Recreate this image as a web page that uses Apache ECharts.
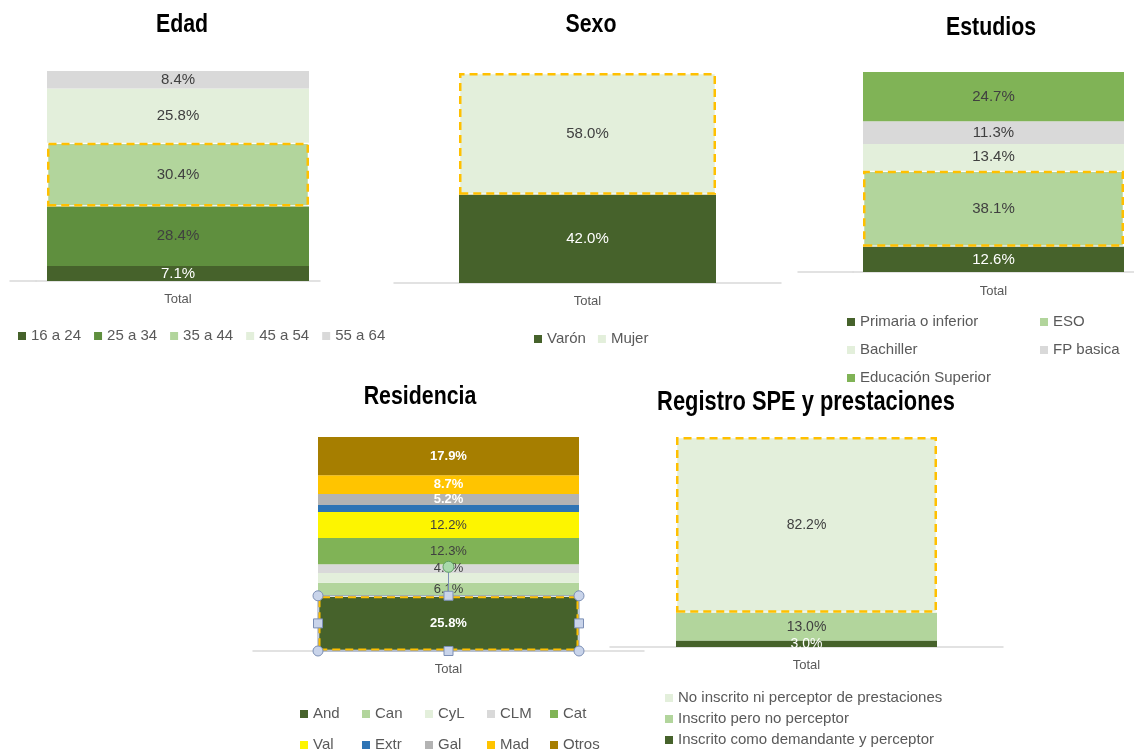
<!DOCTYPE html>
<html><head><meta charset="utf-8">
<script src="https://cdn.jsdelivr.net/npm/echarts@6/dist/echarts.min.js"></script>
<style>html,body{margin:0;padding:0;background:#fff}#c{width:1134px;height:753px}</style>
</head><body><div id="c"></div>
<script>
// ---------- DATA ----------
const category = ['Total'];
const edadNames = ['16 a 24', '25 a 34', '35 a 44', '45 a 54', '55 a 64'];
const edadValues = [7.1, 28.4, 30.4, 25.8, 8.4];
const sexoNames = ['Varón', 'Mujer'];
const sexoValues = [42.0, 58.0];
const estudiosNames = ['Primaria o inferior', 'ESO', 'Bachiller', 'FP basica', 'Educación Superior'];
const estudiosValues = [12.6, 38.1, 13.4, 11.3, 24.7];
const residNames = ['And', 'Can', 'CyL', 'CLM', 'Cat', 'Val', 'Extr', 'Gal', 'Mad', 'Otros'];
const residValues = [25.8, 6.1, 4.6, 4.0, 12.3, 12.2, 3.2, 5.2, 8.7, 17.9];
const speNames = ['Inscrito como demandante y perceptor', 'Inscrito pero no perceptor', 'No inscrito ni perceptor de prestaciones'];
const speValues = [3.0, 13.0, 82.2];
const titles = ['Edad', 'Sexo', 'Estudios', 'Residencia', 'Registro SPE y prestaciones'];

// ---------- STYLE ----------
const DG = '#46622b', MG = '#5f8f3e', LG = '#b2d59c', PG = '#e3efdb', GR = '#d9d9d9', CG = '#80b356';
const edadColors = [DG, MG, LG, PG, GR];
const sexoColors = [DG, PG];
const estudiosColors = [DG, LG, PG, GR, CG];
const residColors = [DG, LG, PG, GR, CG, '#fdf500', '#2e74b5', '#b3b3b3', '#ffc400', '#a67e00'];
const speColors = [DG, LG, PG];
const DARK = '#404040', WHITE = '#ffffff';
const FONT = "'Liberation Sans', Arial, Helvetica, sans-serif";
const HL = '#ffc000';

const sum = a => a.reduce((s, v) => s + v, 0);

const grids = [
  { left: 36, top: 71, width: 284, height: 210 },
  { left: 394, top: 73, width: 387, height: 210 },
  { left: 853, top: 72, width: 281, height: 200 },
  { left: 253, top: 437, width: 391, height: 214 },
  { left: 610, top: 437, width: 393, height: 210 },
  // extensions of the baseline to the left of the Edad and Estudios plots
  { left: 10, top: 71, width: 26, height: 210 },
  { left: 798, top: 72, width: 55, height: 200 }
];
const totals = [sum(edadValues), sum(sexoValues), sum(estudiosValues), sum(residValues), sum(speValues), 1, 1];
const labelMargins = [12, 12, 13, 12, 12, 12, 12];

function makeSeries(g, names, values, colors, labelColors, opts) {
  return names.map((n, i) => {
    const hl = i === opts.highlight;
    return {
      name: n, type: 'bar', stack: 's' + g,
      xAxisIndex: g, yAxisIndex: g,
      barWidth: opts.barWidth,
      data: [values[i]],
      itemStyle: hl ? { color: colors[i], borderColor: HL, borderWidth: 2.5, borderType: [8, 5] } : { color: colors[i] },
      label: {
        show: opts.hide ? !opts.hide.includes(i) : true,
        position: 'inside',
        color: labelColors[i],
        fontFamily: FONT,
        fontSize: opts.fontSize,
        fontWeight: (opts.boldWhite && labelColors[i] === WHITE) ? 'bold' : 'normal',
        formatter: p => Number(p.value).toFixed(1) + '%'
      },
      emphasis: { disabled: true },
      z: hl ? 3 : 2
    };
  });
}

const series = [].concat(
  makeSeries(0, edadNames, edadValues, edadColors, [WHITE, DARK, DARK, DARK, DARK], { barWidth: 262, fontSize: 15, highlight: 2 }),
  makeSeries(1, sexoNames, sexoValues, sexoColors, [WHITE, DARK], { barWidth: 257, fontSize: 15, highlight: 1 }),
  makeSeries(2, estudiosNames, estudiosValues, estudiosColors, [WHITE, DARK, DARK, DARK, DARK], { barWidth: 261, fontSize: 15, highlight: 1 }),
  makeSeries(3, residNames, residValues, residColors,
    [WHITE, DARK, DARK, DARK, DARK, DARK, WHITE, WHITE, WHITE, WHITE],
    { barWidth: 261, fontSize: 13, highlight: 0, hide: [2, 6], boldWhite: true }),
  makeSeries(4, speNames, speValues, speColors, [WHITE, DARK, DARK], { barWidth: 261, fontSize: 14, highlight: 2 })
);

// selection handles drawn around the "And" bar (PowerPoint selection artefact)
series.push({
  type: 'custom', xAxisIndex: 3, yAxisIndex: 3, z: 10, silent: true,
  data: [[0, residValues[0]]],
  renderItem: (params, api) => {
    const b = api.coord([0, 0]);
    const t = api.coord([0, api.value(1)]);
    const hw = 261 / 2;
    const x0 = b[0] - hw, x1 = b[0] + hw, y0 = t[1], y1 = b[1], cx = b[0], cy = (y0 + y1) / 2;
    const hs = { fill: '#c9d4ea', stroke: '#7c8fb5', lineWidth: 1 };
    const circ = (x, y) => ({ type: 'circle', shape: { cx: x, cy: y, r: 5 }, style: hs });
    const sq = (x, y) => ({ type: 'rect', shape: { x: x - 4.5, y: y - 4.5, width: 9, height: 9 }, style: hs });
    return {
      type: 'group', children: [
        { type: 'rect', shape: { x: x0, y: y0, width: x1 - x0, height: y1 - y0 }, style: { fill: null, stroke: '#8a9bbd', lineWidth: 1 } },
        { type: 'line', shape: { x1: cx, y1: y0, x2: cx, y2: y0 - 24 }, style: { stroke: '#7c8fb5', lineWidth: 1 } },
        { type: 'circle', shape: { cx: cx, cy: y0 - 29, r: 5.5 }, style: { fill: '#a8d9aa', stroke: '#5e9e62', lineWidth: 1 } },
        circ(x0, y0), circ(x1, y0), circ(x0, y1), circ(x1, y1),
        sq(cx, y0), sq(cx, y1), sq(x0, cy), sq(x1, cy)
      ]
    };
  }
});

const xAxis = grids.map((g, i) => ({
  type: 'category', gridIndex: i, data: category,
  axisLine: { show: true, lineStyle: { color: '#d9d9d9', width: 1.5 } },
  axisTick: { show: false },
  axisLabel: { show: i < 5, color: '#595959', fontFamily: FONT, fontSize: 13, margin: labelMargins[i] }
}));
const yAxis = grids.map((g, i) => ({
  type: 'value', gridIndex: i, min: 0, max: totals[i], show: false, splitLine: { show: false }
}));

// chart titles: bold, horizontally condensed like the original narrow typeface
const titlePos = [[182, 25], [591, 25], [991, 28], [420, 397], [806, 403]];
const graphic = titles.map((t, i) => ({
  type: 'text', x: titlePos[i][0], y: titlePos[i][1], scaleX: i === 4 ? 0.81 : 0.82, silent: true,
  style: {
    text: t, font: 'bold ' + (i === 4 ? 27 : 26) + 'px ' + FONT,
    fill: '#000', textAlign: 'center', textVerticalAlign: 'middle'
  }
}));

const legBase = {
  icon: 'rect', itemWidth: 8, itemHeight: 8, padding: 0, selectedMode: false,
  itemStyle: { borderWidth: 0 },
  textStyle: { fontFamily: FONT, fontSize: 15, color: '#595959', lineHeight: 16 }
};
const legend = [
  Object.assign({}, legBase, { data: edadNames, left: 18, top: 328, orient: 'horizontal', itemGap: 13 }),
  Object.assign({}, legBase, { data: sexoNames, left: 534, top: 331, orient: 'horizontal', itemGap: 12 }),
  Object.assign({}, legBase, { data: [estudiosNames[0], estudiosNames[2], estudiosNames[4]], left: 847, top: 314, orient: 'vertical', itemGap: 12 }),
  Object.assign({}, legBase, { data: [estudiosNames[1], estudiosNames[3]], left: 1040, top: 314, orient: 'vertical', itemGap: 12 }),
  Object.assign({}, legBase, { data: [residNames[0], residNames[5]], left: 300, top: 706, orient: 'vertical', itemGap: 15 }),
  Object.assign({}, legBase, { data: [residNames[1], residNames[6]], left: 362, top: 706, orient: 'vertical', itemGap: 15 }),
  Object.assign({}, legBase, { data: [residNames[2], residNames[7]], left: 425, top: 706, orient: 'vertical', itemGap: 15 }),
  Object.assign({}, legBase, { data: [residNames[3], residNames[8]], left: 487, top: 706, orient: 'vertical', itemGap: 15 }),
  Object.assign({}, legBase, { data: [residNames[4], residNames[9]], left: 550, top: 706, orient: 'vertical', itemGap: 15 }),
  Object.assign({}, legBase, { data: [speNames[2], speNames[1], speNames[0]], left: 665, top: 690, orient: 'vertical', itemGap: 5 })
];

const chart = echarts.init(document.getElementById('c'), null, { renderer: 'canvas' });
chart.setOption({
  animation: false,
  backgroundColor: '#ffffff',
  graphic: graphic,
  grid: grids,
  xAxis: xAxis,
  yAxis: yAxis,
  legend: legend,
  series: series
});
</script>
</body></html>
